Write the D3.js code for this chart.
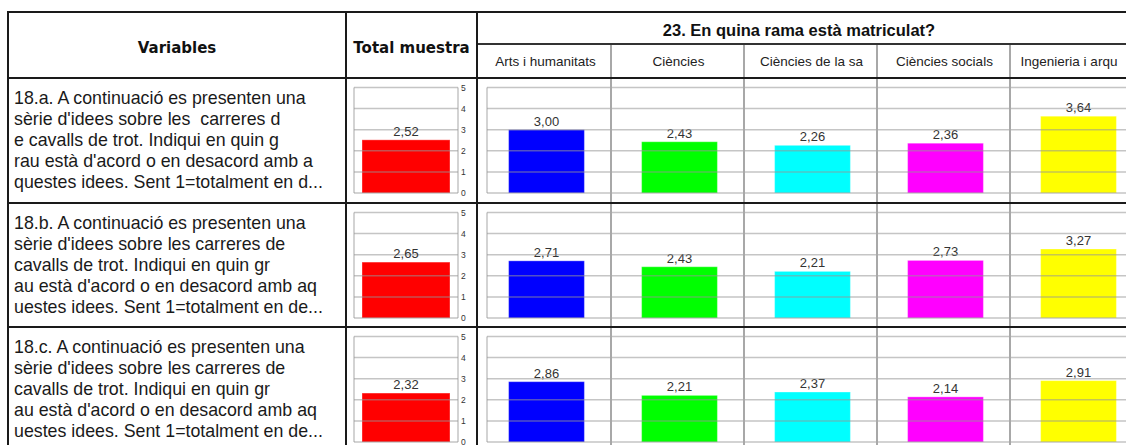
<!DOCTYPE html>
<html>
<head>
<meta charset="utf-8">
<script src="https://cdn.jsdelivr.net/npm/d3@7"></script>
<style>
  html, body { margin: 0; padding: 0; background: #fff; }
  svg { display: block; }
</style>
</head>
<body>
<svg id="chart" width="1126" height="445"></svg>
<script>
// ---------- DATA ----------
const groupTitle = "23. En quina rama està matriculat?";
const headerVariables = "Variables";
const headerTotal = "Total muestra";
const categories = ["Arts i humanitats", "Ciències", "Ciències de la sa", "Ciències socials", "Ingenieria i arqu"];
const variableText = [
  ["18.a. A continuació es presenten una", "sèrie d'idees sobre les  carreres d", "e cavalls de trot. Indiqui en quin g", "rau està d'acord o en desacord amb a", "questes idees. Sent 1=totalment en d..."],
  ["18.b. A continuació es presenten una", "sèrie d'idees sobre les carreres de", "cavalls de trot. Indiqui en quin gr", "au està d'acord o en desacord amb aq", "uestes idees. Sent 1=totalment en de..."],
  ["18.c. A continuació es presenten una", "sèrie d'idees sobre les carreres de", "cavalls de trot. Indiqui en quin gr", "au està d'acord o en desacord amb aq", "uestes idees. Sent 1=totalment en de..."]
];
const totalMuestra    = [2.52, 2.65, 2.32];
const artsHumanitats  = [3.00, 2.71, 2.86];
const ciencies        = [2.43, 2.43, 2.21];
const cienciesSalut   = [2.26, 2.21, 2.37];
const cienciesSocials = [2.36, 2.73, 2.14];
const ingenieria      = [3.64, 3.27, 2.91];
const yTicks = [0, 1, 2, 3, 4, 5];
const categoryColors = ["#0000ff", "#00ff00", "#00ffff", "#ff00ff", "#ffff00"];
const totalColor = "#ff0000";

// ---------- LAYOUT ----------
const W = 1126, H = 445;
const tableTop = 12, subHeadY = 44, headBottom = 78;
const xVar = 8, xTotal = 346, xGroup = 477, colW = 133;
const rowH = 124.5;
const seriesByCat = [artsHumanitats, ciencies, cienciesSalut, cienciesSocials, ingenieria];
const rowTops = variableText.map((d, i) => Math.round(headBottom + i * rowH));

const svg = d3.select("#chart");
svg.append("rect").attr("width", W).attr("height", H).attr("fill", "#fff");

const fmt = d3.formatLocale({decimal: ",", thousands: ".", grouping: [3], currency: ["", "€"]}).format(".2f");

const colScale = d3.scaleBand().domain(categories).range([xGroup + 1, xGroup + 1 + categories.length * colW]);
const barScale = d3.scaleBand().domain(categories).range([xGroup + 3, xGroup + 3 + categories.length * colW])
  .paddingInner(0.43).paddingOuter(0.215);
const totalBand = d3.scaleBand().domain([headerTotal]).range([xTotal + 16, xTotal + 104]);
const totalPlotL = xTotal + 8, totalPlotR = xTotal + 112;
const catPlotL = xGroup + 10;

const gridColor = "rgba(150,150,150,0.55)";

// ---------- ROWS ----------
rowTops.forEach((top, r) => {
  const y = d3.scaleLinear().domain([0, 5]).range([top + 115, top + 9.5]);
  const g = svg.append("g");

  // variable text
  const t = g.append("text")
    .attr("font-family", "'Liberation Sans', Arial, sans-serif")
    .attr("font-size", 17.8).attr("fill", "#1a1a1a");
  variableText[r].forEach((line, k) => {
    t.append("tspan").attr("x", xVar + 6).attr("y", top + 26 + k * 21)
      .attr("xml:space", "preserve").style("white-space", "pre").text(line);
  });

  // total bar
  g.append("rect")
    .attr("x", totalBand(headerTotal)).attr("width", totalBand.bandwidth())
    .attr("y", y(totalMuestra[r])).attr("height", y(0) - y(totalMuestra[r]))
    .attr("fill", totalColor).attr("stroke", "rgba(255,255,255,0.35)").attr("stroke-width", 1);
  // total gridlines + frame
  g.selectAll(null).data(yTicks).join("line")
    .attr("x1", totalPlotL).attr("x2", totalPlotR)
    .attr("y1", d => y(d)).attr("y2", d => y(d))
    .attr("stroke", gridColor).attr("stroke-width", 1.5);
  g.append("line").attr("x1", totalPlotL).attr("x2", totalPlotL).attr("y1", y(5)).attr("y2", y(0))
    .attr("stroke", gridColor).attr("stroke-width", 1.5);
  g.append("line").attr("x1", totalPlotR).attr("x2", totalPlotR).attr("y1", y(5)).attr("y2", y(0))
    .attr("stroke", gridColor).attr("stroke-width", 1.5);
  // axis
  const ax = g.append("g").attr("transform", `translate(${totalPlotR + 1},0)`)
    .call(d3.axisRight(y).tickValues(yTicks).tickSize(0).tickPadding(2).tickFormat(d3.format("d")));
  ax.select(".domain").remove();
  ax.selectAll("text").attr("font-family", "'Liberation Sans', Arial, sans-serif")
    .attr("font-size", 8.5).attr("fill", "#333");
  g.append("text").attr("x", totalBand(headerTotal) + totalBand.bandwidth() / 2)
    .attr("y", y(totalMuestra[r]) - 4).attr("text-anchor", "middle")
    .attr("font-family", "'Liberation Sans', Arial, sans-serif").attr("font-size", 13).attr("fill", "#333")
    .text(fmt(totalMuestra[r]));

  // category bars
  categories.forEach((c, ci) => {
    const v = seriesByCat[ci][r];
    g.append("rect")
      .attr("x", barScale(c)).attr("width", barScale.bandwidth())
      .attr("y", y(v)).attr("height", y(0) - y(v))
      .attr("fill", categoryColors[ci]).attr("stroke", "rgba(255,255,255,0.35)").attr("stroke-width", 1);
    g.append("text").attr("x", barScale(c) + barScale.bandwidth() / 2)
      .attr("y", y(v) - 4).attr("text-anchor", "middle")
      .attr("font-family", "'Liberation Sans', Arial, sans-serif").attr("font-size", 13).attr("fill", "#333")
      .text(fmt(v));
  });
  g.selectAll(null).data(yTicks).join("line")
    .attr("x1", catPlotL).attr("x2", W)
    .attr("y1", d => y(d)).attr("y2", d => y(d))
    .attr("stroke", gridColor).attr("stroke-width", 1.5);
  g.append("line").attr("x1", catPlotL).attr("x2", catPlotL).attr("y1", y(5)).attr("y2", y(0))
    .attr("stroke", gridColor).attr("stroke-width", 1.5);
});

// ---------- GRID / BORDERS ----------
categories.slice(1).forEach(c => {
  svg.append("line").attr("x1", colScale(c)).attr("x2", colScale(c))
    .attr("y1", subHeadY).attr("y2", H)
    .attr("stroke", "#a8a8a8").attr("stroke-width", 2);
});
[tableTop, headBottom, ...rowTops.slice(1)].forEach(yy => {
  svg.append("line").attr("x1", xVar).attr("x2", W).attr("y1", yy).attr("y2", yy)
    .attr("stroke", "#1a1a1a").attr("stroke-width", 2);
});
svg.append("line").attr("x1", xGroup).attr("x2", W).attr("y1", subHeadY).attr("y2", subHeadY)
  .attr("stroke", "#333").attr("stroke-width", 2);
[xVar, xTotal, xGroup].forEach(xx => {
  svg.append("line").attr("x1", xx).attr("x2", xx).attr("y1", tableTop - 1).attr("y2", H)
    .attr("stroke", "#1a1a1a").attr("stroke-width", 2);
});

// ---------- HEADERS ----------
svg.append("text").attr("x", (xVar + xTotal) / 2).attr("y", 53).attr("text-anchor", "middle")
  .attr("font-family", "'DejaVu Sans', Verdana, sans-serif").attr("font-weight", "bold")
  .attr("font-size", 15).attr("fill", "#111").text(headerVariables);
svg.append("text").attr("x", (xTotal + xGroup) / 2).attr("y", 53).attr("text-anchor", "middle")
  .attr("font-family", "'DejaVu Sans', Verdana, sans-serif").attr("font-weight", "bold")
  .attr("font-size", 15).attr("fill", "#111").text(headerTotal);
svg.append("text").attr("x", 799).attr("y", 36).attr("text-anchor", "middle")
  .attr("font-family", "'Liberation Sans', Arial, sans-serif").attr("font-weight", "bold")
  .attr("font-size", 16.5).attr("fill", "#111").text(groupTitle);
categories.forEach(c => {
  const x0 = colScale(c), x1 = Math.min(x0 + colW, W);
  svg.append("text").attr("x", (x0 + x1) / 2 + 1).attr("y", 66).attr("text-anchor", "middle")
    .attr("font-family", "'Liberation Sans', Arial, sans-serif")
    .attr("font-size", 13.5).attr("fill", "#222").text(c);
});
</script>
</body>
</html>
